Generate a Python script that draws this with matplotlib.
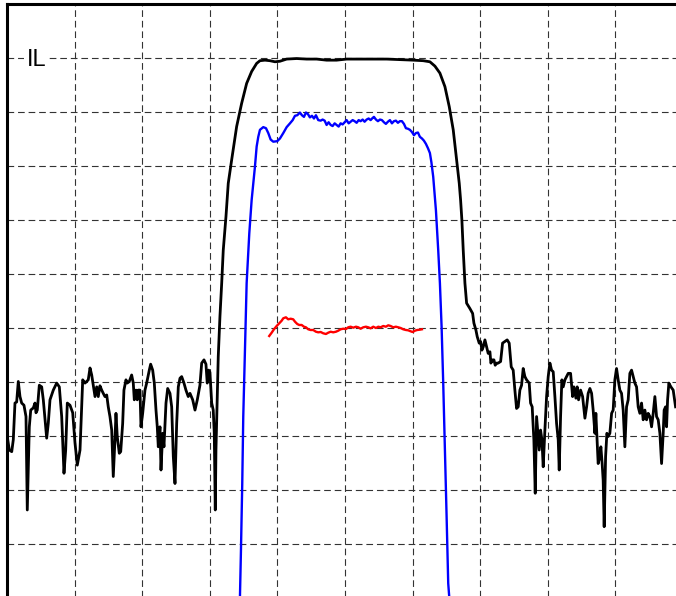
"""filter response trace: IL / passband zoom / ripple"""

import matplotlib.pyplot as plt

# frequency axis in grid units (10 per division), levels in dB (10 dB/div)
wide_x = [
    0.04, 0.34, 0.70, 0.93, 1.18, 1.43, 1.67, 1.92, 2.17, 2.51, 2.81, 3.00, 3.30, 3.51, 3.89, 4.14,
    4.29, 4.48, 4.78, 5.13, 5.37, 5.87, 6.11, 6.36, 6.85, 7.35, 7.74, 8.09, 8.43, 8.68, 8.92, 9.32,
    9.72, 10.06, 10.40, 10.80, 11.20, 11.54, 12.02, 12.28, 12.53, 12.76, 13.02, 13.27, 13.50, 13.75,
    14.01, 14.24, 14.49, 14.75, 14.98, 15.23, 15.49, 15.72, 15.97, 16.12, 16.31, 16.61, 16.82, 17.11,
    17.30, 17.60, 17.79, 18.09, 18.44, 18.68, 18.83, 19.08, 19.27, 19.42, 19.67, 19.82, 20.07, 20.41,
    20.66, 21.05, 21.25, 21.55, 21.79, 22.04, 22.23, 22.38, 22.63, 22.78, 23.03, 23.22, 23.52, 23.77,
    24.11, 24.36, 24.60, 24.85, 25.10, 25.34, 25.59, 25.84, 26.18, 26.47, 26.81, 27.07, 27.47, 27.81,
    28.15, 28.54, 28.80, 29.14, 29.43, 29.62, 29.83, 30.02, 30.28, 30.51, 30.66, 30.81, 30.91, 31.10,
    31.25, 31.50, 31.76, 31.99, 32.39, 32.73, 33.23, 33.97, 34.71, 35.45, 36.19, 36.93, 37.42, 38.16,
    38.90, 39.64, 40.38, 41.37, 42.85, 44.33, 45.80, 47.28, 48.76, 50.24, 52.21, 54.18, 56.16, 58.12,
    60.09, 61.57, 62.56, 63.30, 64.04, 64.78, 65.42, 66.01, 66.51, 66.90, 67.10, 67.29, 67.49, 67.74,
    67.99, 68.48, 68.88, 69.07, 69.37, 69.56, 69.85, 70.06, 70.25, 70.45, 70.70, 70.95, 71.18, 71.44,
    71.58, 71.84, 72.03, 72.22, 72.43, 72.66, 73.02, 73.31, 73.65, 73.99, 74.29, 74.59, 74.88, 75.13,
    75.38, 75.62, 75.87, 76.12, 76.36, 76.61, 76.86, 77.25, 77.45, 77.69, 77.94, 78.14, 78.34, 78.53,
    78.73, 78.93, 79.13, 79.32, 79.57, 79.82, 80.06, 80.31, 80.56, 80.80, 81.05, 81.30, 81.54, 81.69,
    81.89, 82.08, 82.28, 82.53, 82.78, 83.02, 83.37, 83.67, 83.86, 84.16, 84.35, 84.55, 84.85, 85.15,
    85.49, 85.74, 85.97, 86.23, 86.48, 86.71, 86.97, 87.11, 87.26, 87.45, 87.70, 87.85, 88.04, 88.19,
    88.34, 88.55, 88.74, 88.93, 89.18, 89.44, 89.67, 89.92, 90.17, 90.41, 90.66, 90.91, 91.15, 91.40,
    91.65, 91.89, 92.14, 92.39, 92.63, 92.88, 93.13, 93.37, 93.62, 93.87, 94.11, 94.36, 94.61, 94.85,
    95.10, 95.35, 95.59, 95.84, 96.09, 96.33, 96.58, 96.83, 97.07, 97.21, 97.42, 97.57, 97.72, 97.91,
    98.21, 98.55, 98.90,
]
wide_db = [
    -80.1, -82.6, -82.9, -80.7, -73.9, -73.7, -69.9, -72.7, -73.9, -74.3, -76.4, -93.7, -78.3, -75.2,
    -74.8, -73.9, -75.7, -75.2, -70.6, -70.9, -73.3, -80.4, -77.6, -73.3, -71.5, -70.2, -70.9, -76.4,
    -86.9, -82.6, -73.9, -74.3, -75.7, -81.3, -85.4, -82.6, -69.6, -70.2, -69.6, -67.4, -68.7, -70.6,
    -72.7, -70.9, -72.7, -70.7, -71.5, -72.1, -72.7, -72.4, -74.6, -76.4, -78.9, -87.5, -80.7, -75.8,
    -80.1, -83.2, -82.9, -77.7, -71.5, -69.6, -70.2, -69.9, -68.7, -70.2, -73.3, -71.5, -73.3, -71.5,
    -71.5, -78.3, -75.8, -71.5, -70.2, -67.8, -66.7, -67.8, -70.2, -75.2, -78.3, -82.0, -78.3, -86.3,
    -79.5, -82.0, -73.9, -71.2, -72.1, -74.6, -83.8, -88.8, -77.7, -70.9, -69.3, -69.0, -70.2, -71.5,
    -72.7, -72.1, -73.3, -75.2, -73.3, -70.6, -66.5, -65.9, -66.7, -70.2, -67.8, -68.2, -73.9, -75.2,
    -79.5, -93.7, -82.6, -73.3, -65.3, -57.9, -51.7, -45.6, -39.4, -33.2, -28.9, -22.7, -18.4, -14.7,
    -12.5, -11.0, -10.5, -10.4, -10.5, -10.7, -10.6, -10.2, -10.1, -10.2, -10.2, -10.4, -10.4, -10.2,
    -10.2, -10.2, -10.2, -10.3, -10.4, -10.5, -10.7, -11.5, -12.8, -15.3, -19.0, -23.3, -28.9, -33.2,
    -36.3, -40.0, -45.6, -51.7, -55.4, -56.4, -57.3, -59.1, -60.4, -61.6, -62.8, -62.5, -64.1, -63.5,
    -62.2, -63.5, -64.7, -64.4, -66.5, -65.9, -65.9, -66.9, -66.5, -66.5, -66.2, -62.8, -62.5, -62.2,
    -62.8, -67.2, -67.8, -71.5, -74.9, -74.6, -71.5, -70.6, -67.5, -69.0, -69.6, -70.2, -73.9, -74.6,
    -80.7, -90.6, -76.4, -79.5, -82.6, -78.9, -80.7, -85.7, -78.9, -72.7, -69.0, -66.5, -67.8, -68.1,
    -72.7, -77.7, -80.7, -86.3, -76.4, -69.6, -70.9, -69.6, -69.0, -68.4, -68.4, -72.7, -70.9, -73.0,
    -70.9, -73.3, -71.5, -72.7, -76.7, -74.6, -72.1, -71.2, -72.1, -75.2, -79.5, -75.8, -80.1, -85.1,
    -83.8, -82.0, -85.1, -88.2, -96.8, -83.8, -79.5, -80.1, -79.5, -75.8, -75.2, -69.6, -67.5, -69.6,
    -71.5, -72.1, -75.2, -82.0, -74.6, -73.3, -68.4, -67.8, -69.0, -70.2, -70.9, -74.6, -75.8, -73.9,
    -77.0, -75.2, -77.0, -75.8, -76.4, -78.3, -75.8, -72.7, -76.4, -77.0, -79.5, -85.1, -79.5, -75.2,
    -74.6, -78.3, -73.3, -70.2, -70.9, -71.5, -74.6,
]

zoom_x = [
    34.39, 34.46, 34.61, 34.80, 34.95, 35.20, 35.45, 35.84, 36.19, 36.68, 36.93, 37.17, 37.42, 37.91,
    38.31, 38.65, 39.00, 39.39, 39.98, 40.38, 40.87, 41.37, 41.86, 42.26, 42.60, 42.94, 43.33, 43.63,
    43.93, 44.22, 44.52, 44.81, 45.11, 45.41, 45.70, 46.04, 46.40, 46.69, 46.99, 47.28, 47.58, 47.88,
    48.17, 48.47, 48.76, 49.06, 49.35, 49.65, 49.95, 50.24, 50.54, 50.83, 51.13, 51.42, 51.72, 52.02,
    52.31, 52.61, 52.90, 53.20, 53.50, 53.79, 54.09, 54.28, 54.58, 54.87, 55.17, 55.46, 55.76, 56.05,
    56.35, 56.65, 56.94, 57.24, 57.53, 57.83, 58.12, 58.42, 58.72, 59.01, 59.31, 59.60, 59.90, 60.20,
    60.49, 60.79, 61.08, 61.38, 61.67, 61.97, 62.27, 62.56, 62.78, 63.05, 63.45, 63.79, 64.04, 64.29,
    64.53, 64.78, 65.03, 65.27, 65.42, 65.52,
]
zoom_db = [
    -114.1, -109.8, -101.1, -88.8, -76.4, -64.1, -51.7, -42.5, -36.3, -30.1, -26.4, -24.6, -23.3,
    -22.8, -23.0, -23.9, -25.1, -25.5, -25.4, -24.9, -23.9, -22.8, -22.1, -21.5, -20.7, -20.6, -20.1,
    -20.6, -20.9, -20.1, -20.4, -21.0, -20.7, -21.2, -20.6, -21.5, -21.6, -21.4, -21.6, -22.4, -21.9,
    -22.4, -22.6, -22.1, -22.4, -22.7, -22.1, -22.3, -21.9, -21.5, -22.1, -21.8, -21.5, -21.7, -22.0,
    -21.5, -21.7, -21.4, -21.8, -21.4, -21.2, -21.5, -21.1, -20.9, -21.4, -21.7, -21.4, -21.5, -21.9,
    -22.2, -21.8, -21.5, -22.1, -21.7, -21.6, -22.0, -21.7, -21.7, -22.2, -23.0, -23.1, -23.3, -23.7,
    -24.3, -23.9, -23.8, -24.6, -24.9, -25.3, -25.9, -26.7, -27.6, -29.3, -32.0, -38.2, -45.6, -51.7,
    -59.8, -70.2, -82.6, -94.9, -107.3, -109.8, -114.1,
]

ripple_x = [
    38.79, 39.15, 39.49, 39.89, 40.27, 40.63, 40.87, 41.26, 41.60, 41.96, 42.34, 42.60, 42.94, 43.23,
    43.59, 43.93, 44.22, 44.56, 44.92, 45.30, 45.70, 46.04, 46.40, 46.78, 47.18, 47.52, 47.88, 48.26,
    48.66, 49.00, 49.35, 49.74, 50.14, 50.48, 50.83, 51.22, 51.62, 51.96, 52.31, 52.70, 53.10, 53.44,
    53.79, 54.18, 54.58, 54.92, 55.27, 55.66, 56.05, 56.40, 56.75, 57.13, 57.53, 57.87, 58.23, 58.61,
    59.01, 59.35, 59.71, 60.00, 60.34, 60.68, 61.08, 61.38,
]
ripple_db = [
    -61.48, -60.87, -60.24, -59.63, -59.13, -58.65, -58.20, -58.02, -58.39, -58.28, -58.39, -58.83,
    -59.26, -59.44, -59.44, -59.76, -59.87, -60.24, -60.37, -60.37, -60.69, -60.80, -60.74, -60.98,
    -61.11, -60.87, -60.69, -60.80, -60.69, -60.50, -60.24, -60.13, -60.19, -59.87, -59.76, -59.94,
    -59.76, -59.87, -60.13, -59.87, -59.76, -59.87, -60.06, -59.76, -60.00, -59.76, -59.87, -59.63,
    -59.76, -59.50, -59.63, -59.87, -59.76, -59.87, -60.00, -60.24, -60.37, -60.43, -60.61, -60.74,
    -60.50, -60.37, -60.31, -60.24,
]


def make_plot():
    fig = plt.figure(figsize=(6.76, 5.96), dpi=100)
    ax = fig.add_axes([7 / 676, -2 / 596, 1.0, 594 / 596])

    ax.plot(wide_x, wide_db, color="black", lw=2.0, solid_joinstyle="round")
    ax.plot(zoom_x, zoom_db, color="#0000ff", lw=1.7, solid_joinstyle="round")
    ax.plot(ripple_x, ripple_db, color="#ff0000", lw=1.7, solid_joinstyle="round")

    ax.set_xlim(0, 100)
    ax.set_ylim(-110, 0)
    ax.set_xticks(range(0, 101, 10))
    ax.set_yticks(range(-110, 1, 10))
    ax.tick_params(length=0, labelbottom=False, labelleft=False)
    ax.grid(True, color="#333333", lw=0.8, linestyle=(0, (6, 3.5)))
    ax.set_axisbelow(True)
    for side in ("left", "top"):
        ax.spines[side].set_linewidth(2.2)
    for side in ("right", "bottom"):
        ax.spines[side].set_visible(False)

    ax.text(2.9, -10.3, "IL", fontsize=17, family="Liberation Sans", ha="left", va="center",
            bbox=dict(facecolor="white", edgecolor="none", pad=1.5))

    fig.savefig("out.png", dpi=100)


if __name__ == "__main__":
    make_plot()
